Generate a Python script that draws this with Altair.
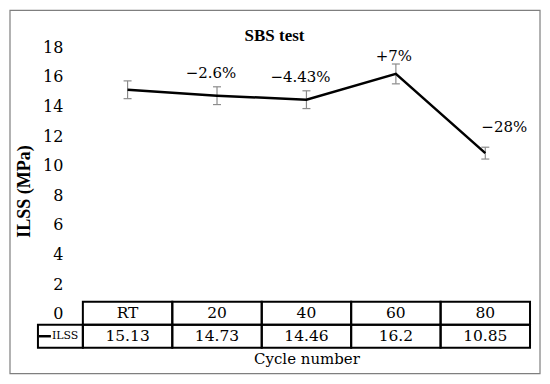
import altair as alt
import pandas as pd

# ---- values ----
cycles = ["RT", "20", "40", "60", "80"]
ilss = [15.13, 14.73, 14.46, 16.2, 10.85]
ilss_err = [0.6, 0.6, 0.6, 0.67, 0.4]
changes = ["", "−2.6%", "−4.43%", "+7%", "−28%"]
y_ticks = [0, 2, 4, 6, 8, 10, 12, 14, 16, 18]
chart_title = "SBS test"
y_title = "ILSS (MPa)"
x_title = "Cycle number"
series_name = "ILSS"

# ---- fonts / layout constants (pixels relative to the plot area) ----
FONT_BOLD = "Liberation Serif"
FONT = "DejaVu Serif"
W, H = 448, 301
Y_MAX = 18.0
PX_Y = 267 / Y_MAX            # value 0 falls inside the first data-table row
Y_MIN = Y_MAX - H / PX_Y
X_MIN, X_MAX = -0.5, len(cycles) - 0.5
PX_X = W / (X_MAX - X_MIN)


def y_at(px):
    return Y_MAX - px / PX_Y


def x_at(px):
    return X_MIN + px / PX_X


ROW_TOP, ROW_MID, ROW_BOT = y_at(255), y_at(278), y_at(H)
CAP = 4 / PX_X

n = len(cycles)
df = pd.DataFrame({
    "idx": list(range(n)),
    "cycle": cycles,
    "ilss": ilss,
    "err": ilss_err,
    "change": changes,
})
vals = [f"{v:g}" for v in ilss]

cells_df = pd.DataFrame({
    "idx": list(range(n)) * 2,
    "row": [0] * n + [1] * n,
    "text": cycles + vals,
})

frame_df = pd.DataFrame([{
    "x0": x_at(-73), "x1": x_at(W + 10), "y0": y_at(-37), "y1": y_at(327)
}])
label_df = pd.DataFrame([{
    "x0": x_at(-45), "x1": X_MIN, "y0": ROW_MID, "y1": ROW_BOT,
    "k0": x_at(-44), "k1": x_at(-32), "kt": x_at(-31),
    "ym": (ROW_MID + ROW_BOT) / 2, "name": series_name,
}])

xs = alt.Scale(domain=[X_MIN, X_MAX], nice=False, zero=False)
ys = alt.Scale(domain=[Y_MIN, Y_MAX], nice=False, zero=False)
x_axis = alt.Axis(title=x_title, labels=False, ticks=False, domain=False, grid=False,
                  titleFont=FONT, titleFontSize=15, titleFontWeight="normal",
                  titleColor="black", titlePadding=4)
y_axis = alt.Axis(title=y_title, values=y_ticks, ticks=False, domain=False, grid=False,
                  labelFont=FONT, labelFontSize=16, labelColor="black", labelPadding=20,
                  titleFont=FONT_BOLD, titleFontSize=18, titleFontWeight="bold",
                  titleColor="black", titlePadding=9, titleY=144)


def X(f):
    return alt.X(f, type="quantitative", scale=xs, axis=x_axis)


def Y(f):
    return alt.Y(f, type="quantitative", scale=ys, axis=y_axis)


frame = alt.Chart(frame_df).mark_rect(fillOpacity=0, stroke="#7f7f7f", strokeWidth=1.2).encode(
    x=X("x0"), x2="x1", y=Y("y0"), y2="y1")

cells = alt.Chart(cells_df).transform_calculate(
    x0="datum.idx - 0.5", x1="datum.idx + 0.5",
    y0=f"datum.row == 0 ? {ROW_TOP} : {ROW_MID}",
    y1=f"datum.row == 0 ? {ROW_MID} : {ROW_BOT}",
    ym=f"datum.row == 0 ? {(ROW_TOP + ROW_MID) / 2} : {(ROW_MID + ROW_BOT) / 2}",
)
cell_rect = cells.mark_rect(fillOpacity=0, stroke="black", strokeWidth=2).encode(
    x=X("x0"), x2="x1", y=Y("y0"), y2="y1")
cell_text = cells.mark_text(font=FONT, fontSize=15.5, color="black", baseline="middle").encode(
    x=X("idx"), y=Y("ym"), text="text:N")

lab = alt.Chart(label_df)
lab_rect = lab.mark_rect(fillOpacity=0, stroke="black", strokeWidth=2).encode(
    x=X("x0"), x2="x1", y=Y("y0"), y2="y1")
lab_key = lab.mark_rule(color="black", strokeWidth=2.5).encode(
    x=X("k0"), x2="k1", y=Y("ym"))
lab_text = lab.mark_text(font=FONT, fontSize=11, color="black", align="left", baseline="middle").encode(
    x=X("kt"), y=Y("ym"), text="name:N")

base = alt.Chart(df)
err = base.transform_calculate(lo="datum.ilss - datum.err", hi="datum.ilss + datum.err")
err_rule = err.mark_rule(color="#8c8c8c", strokeWidth=1.2).encode(
    x=X("idx"), y=Y("lo"), y2="hi")
err_caps = err.transform_fold(["lo", "hi"], as_=["end", "yv"]).transform_calculate(
    c0=f"datum.idx - {CAP}", c1=f"datum.idx + {CAP}"
).mark_rule(color="#8c8c8c", strokeWidth=1.2).encode(
    x=X("c0"), x2="c1", y=Y("yv"))

line = base.mark_line(color="black", strokeWidth=2.5).encode(x=X("idx"), y=Y("ilss"))

ann_style = dict(font=FONT, fontSize=15, color="black")
ann_a = base.transform_filter("datum.idx == 1 || datum.idx == 2").mark_text(
    dx=-6, dy=-23, **ann_style).encode(x=X("idx"), y=Y("ilss"), text="change:N")
ann_b = base.transform_filter("datum.idx == 3").mark_text(
    dx=-2, dy=-18, **ann_style).encode(x=X("idx"), y=Y("ilss"), text="change:N")
ann_c = base.transform_filter("datum.idx == 4").mark_text(
    dx=19, dy=-26, **ann_style).encode(x=X("idx"), y=Y("ilss"), text="change:N")

chart = alt.layer(
    frame, cell_rect, cell_text, lab_rect, lab_key, lab_text,
    err_rule, err_caps, line, ann_a, ann_b, ann_c
).properties(
    width=W, height=H,
    padding={"left": 1, "right": 1, "top": 1, "bottom": 1},
    title=alt.TitleParams(chart_title, font=FONT_BOLD, fontSize=17, fontWeight="bold",
                          color="black", anchor="middle", frame="group", dx=-32, dy=4,
                          offset=-31),
    background="white",
).configure_view(strokeOpacity=0)

chart.save("out.html", embed_options={"renderer": "svg", "actions": False})
